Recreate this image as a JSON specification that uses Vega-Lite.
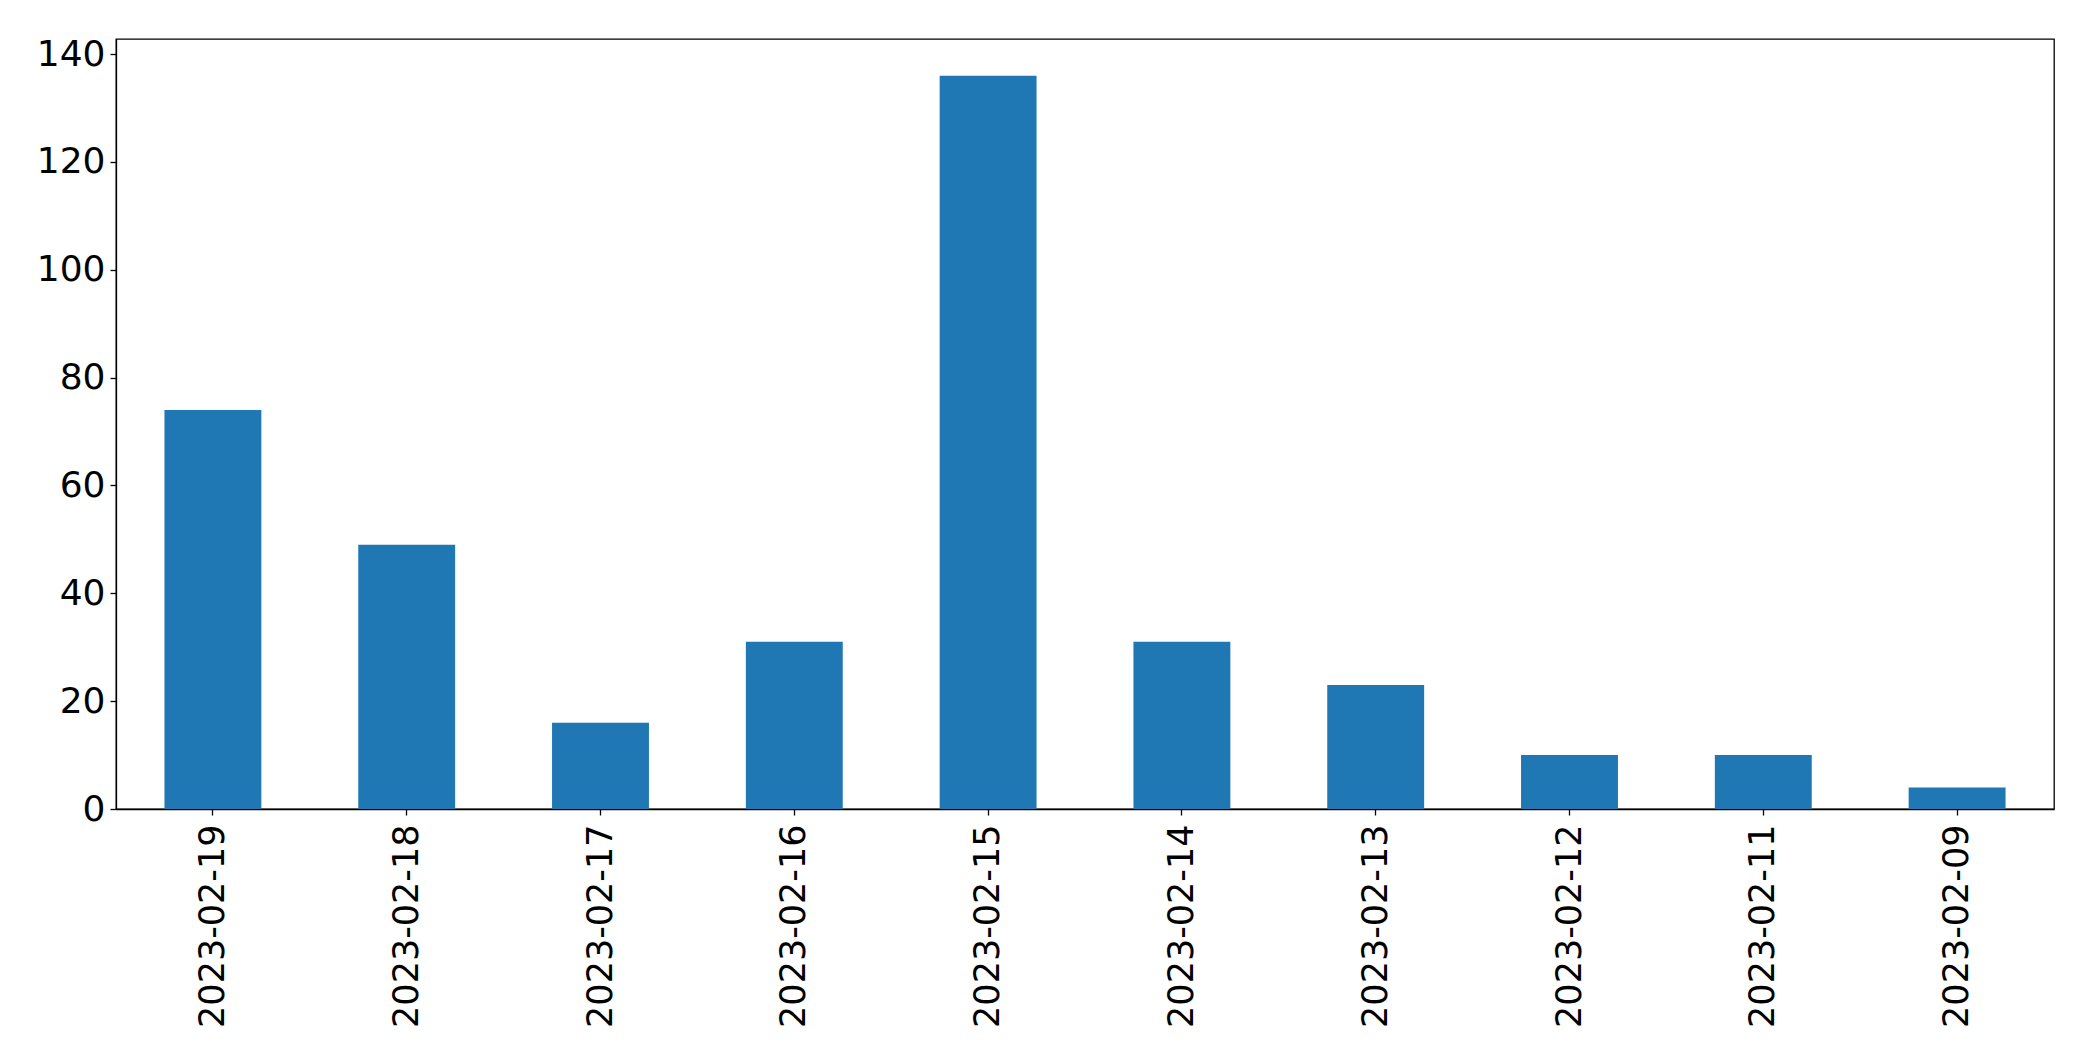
{
  "$schema": "https://vega.github.io/schema/vega-lite/v6.json",
  "autosize": "none",
  "padding": {"left": 116, "top": 39, "right": 39, "bottom": 252},
  "width": 1938,
  "height": 770,
  "background": "white",
  "config": {
    "view": {"stroke": "black", "strokeWidth": 1.3},
    "font": "DejaVu Sans",
    "axis": {
      "domainColor": "black",
      "domainWidth": 1.3,
      "tickColor": "black",
      "tickWidth": 1.3,
      "tickSize": 6,
      "labelColor": "black",
      "labelFont": "DejaVu Sans",
      "labelFontSize": 35,
      "labelLimit": 0,
      "grid": false,
      "title": null
    }
  },
  "data": {
    "values": [
      {"date": "2023-02-19", "count": 74},
      {"date": "2023-02-18", "count": 49},
      {"date": "2023-02-17", "count": 16},
      {"date": "2023-02-16", "count": 31},
      {"date": "2023-02-15", "count": 136},
      {"date": "2023-02-14", "count": 31},
      {"date": "2023-02-13", "count": 23},
      {"date": "2023-02-12", "count": 10},
      {"date": "2023-02-11", "count": 10},
      {"date": "2023-02-09", "count": 4}
    ]
  },
  "mark": {"type": "bar", "color": "#1f77b4"},
  "encoding": {
    "x": {
      "field": "date",
      "type": "nominal",
      "sort": null,
      "scale": {"paddingInner": 0.5, "paddingOuter": 0.25},
      "axis": {"labelAngle": -90, "labelPadding": 9, "labelAlign": "right", "labelBaseline": "middle"}
    },
    "y": {
      "field": "count",
      "type": "quantitative",
      "scale": {"domain": [0, 142.8], "nice": false},
      "axis": {"values": [0, 20, 40, 60, 80, 100, 120, 140], "labelPadding": 5, "labelFontSize": 36}
    }
  }
}
